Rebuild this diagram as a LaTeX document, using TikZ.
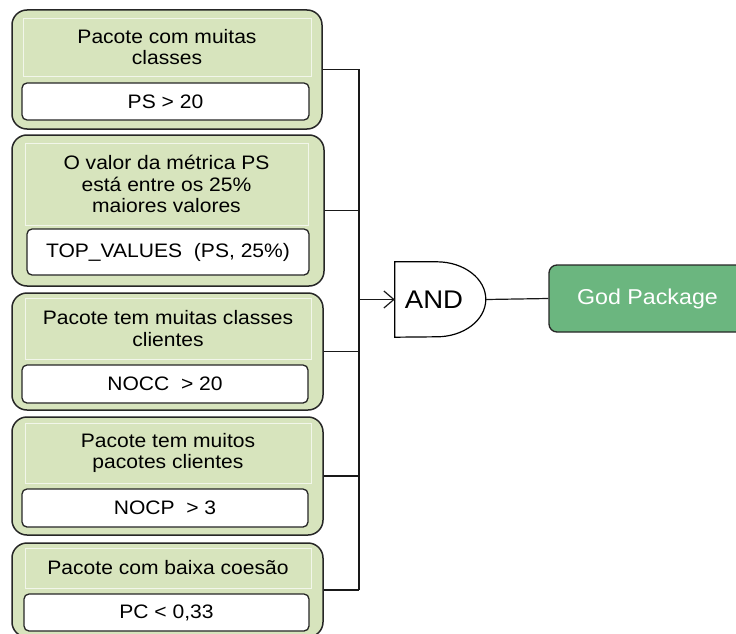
\documentclass[tikz,border=0pt]{standalone}
\usepackage{fontspec}
\setmainfont{Liberation Sans}[FakeStretch=1.08]
\usetikzlibrary{arrows.meta}

\definecolor{leaf}{RGB}{215,228,189}
\definecolor{leafedge}{RGB}{242,246,234}
\definecolor{edge}{RGB}{38,38,38}
\definecolor{result}{RGB}{107,182,127}

\newcommand\boxfont{\fontsize{19.5}{21.9}\selectfont}
\newcommand\gatefont{\fontsize{25.5}{28}\selectfont}
\newcommand\resultfont{\fontsize{21.5}{24}\selectfont}

% node spanning the rectangle (x1,y1)-(x2,y2), y measured downwards
\newcommand\areanode[6]{\node[#2, minimum width={#5-#3}, minimum height={#6-#4}] (#1) at ({(#3+#5)/2},{(#4+#6)/2})}

\begin{document}
\begin{tikzpicture}[x=1pt,y=-1pt,
  outerbox/.style={draw=edge, line width=1.5pt, fill=leaf, rounded corners=15pt, inner sep=0pt},
  titlebox/.style={draw=leafedge, line width=0.9pt, fill=leaf, inner sep=0pt, align=center, font=\boxfont, text=black},
  valuebox/.style={draw=edge, line width=1.3pt, fill=white, rounded corners=5pt, inner sep=0pt, font=\boxfont, text=black},
  resultbox/.style={draw=edge, line width=1.3pt, fill=result, rounded corners=8pt, inner sep=0pt, font=\resultfont, text=white},
  wire/.style={draw=black!90, line width=1.2pt},
]
\clip (0,0) rectangle (736,634);

% condition 1
\areanode{b1}{outerbox}{12}{10}{322}{129} {};
\areanode{t1}{titlebox}{23}{18}{311}{76} {Pacote com muitas\\classes};
\areanode{v1}{valuebox}{22}{83}{309}{120} {PS > 20};

% condition 2
\areanode{b2}{outerbox}{12}{135}{324}{286} {};
\areanode{t2}{titlebox}{25}{143}{308}{225} {O valor da métrica PS\\está entre os 25\%\\maiores valores};
\areanode{v2}{valuebox}{27}{229}{309}{275} {TOP\_VALUES\ \ (PS, 25\%)};

% condition 3
\areanode{b3}{outerbox}{12}{293}{323}{410} {};
\areanode{t3}{titlebox}{25}{298}{311}{359} {Pacote tem muitas classes\\clientes};
\areanode{v3}{valuebox}{22}{365}{308}{403} {NOCC\ \ > 20};

% condition 4
\areanode{b4}{outerbox}{12}{417}{323}{535} {};
\areanode{t4}{titlebox}{25}{423}{311}{483} {Pacote tem muitos\\pacotes clientes};
\areanode{v4}{valuebox}{22}{489}{308}{527} {NOCP\ \ > 3};

% condition 5
\areanode{b5}{outerbox}{12}{543}{323}{637} {};
\areanode{t5}{titlebox}{25}{548}{311}{588} {Pacote com baixa coesão};
\areanode{v5}{valuebox}{24}{594}{309}{631} {PC < 0,33};

% AND gate
\areanode{gate}{inner sep=0pt}{395}{262}{486}{337} {};
\draw[line width=1.2pt, fill=white] (gate.north west) -- ++(42pt,0pt)
  arc[start angle=90, end angle=-90, x radius=49pt, y radius=37.5pt]
  -- (gate.south west) -- cycle;
\node[font=\gatefont, inner sep=0pt] (gatetxt) at (434,300) {AND};

% result
\areanode{res}{resultbox}{549}{265}{746}{332} {God Package};

% bus collecting the conditions
\coordinate (bus) at (359,300);
\foreach \b in {b1,b2,b3,b4,b5}
  \draw[wire] (\b.east) -- (\b.east -| bus);
\draw[wire] (b1.east -| bus) -- (b5.east -| bus);
\draw[wire, -{Straight Barb[length=10pt, width=17pt, line width=1.2pt]}] (gate.west -| bus) -- (gate.west);
\draw[wire] (gate.east) -- (res.west);
\end{tikzpicture}
\end{document}
